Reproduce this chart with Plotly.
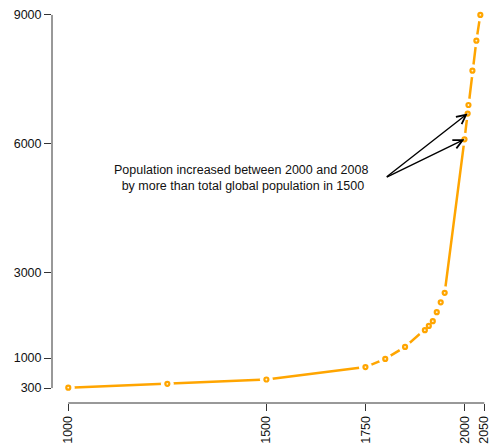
import plotly.graph_objects as go

# ---- data ----
years = [1000, 1250, 1500, 1750, 1800, 1850, 1900, 1910, 1920, 1930, 1940, 1950,
         2000, 2008, 2010, 2020, 2030, 2040]
population = [310, 400, 500, 790, 980, 1260, 1650, 1750, 1860, 2070, 2300, 2520,
              6100, 6700, 6900, 7700, 8400, 9000]

x_ticks = [1000, 1500, 1750, 2000, 2050]
y_ticks = [300, 1000, 3000, 6000, 9000]

note_text = ("Population increased between 2000 and 2008<br>"
             "\u00a0by more than total global population in 1500")
arrow_targets = [2000, 2008]

ORANGE = "#FFA500"
AXIS = "#333333"
FONT = dict(family="Liberation Sans, Arial, sans-serif", size=12.5, color="#111111")

fig = go.Figure()

# connecting line
fig.add_trace(go.Scatter(x=years, y=population, mode="lines",
                         line=dict(color=ORANGE, width=2.5),
                         hoverinfo="skip", showlegend=False))
# white gaps around points (R type="b" look)
fig.add_trace(go.Scatter(x=years, y=population, mode="markers",
                         marker=dict(size=13, color="white", line=dict(width=0)),
                         hoverinfo="skip", showlegend=False))
# points
fig.add_trace(go.Scatter(x=years, y=population, mode="markers",
                         marker=dict(size=4, color="#FFF4DD",
                                     line=dict(color=ORANGE, width=2.2)),
                         showlegend=False))

annotations = [dict(x=1437, y=5200, xref="x", yref="y", text=note_text,
                    showarrow=False, xanchor="center", yanchor="middle",
                    align="center", font=FONT)]
for yr in arrow_targets:
    i = years.index(yr)
    annotations.append(dict(x=years[i], y=population[i], xref="x", yref="y",
                            ax=1800, ay=5200, axref="x", ayref="y", text="",
                            showarrow=True, arrowhead=5, arrowsize=1.3,
                            arrowwidth=1.4, arrowcolor="#000000", standoff=0))

shapes = [
    dict(type="line", xref="x", yref="paper", x0=min(x_ticks), x1=max(x_ticks),
         y0=0, y1=0, line=dict(color=AXIS, width=1)),
    dict(type="line", xref="paper", yref="y", x0=0, x1=0,
         y0=min(y_ticks), y1=max(y_ticks), line=dict(color=AXIS, width=1)),
]

fig.update_layout(
    width=491, height=446,
    margin=dict(l=52, r=0, t=0, b=43),
    paper_bgcolor="white", plot_bgcolor="white",
    font=FONT,
    xaxis=dict(range=[958.9, 2066.9], tickvals=x_ticks, ticktext=[str(v) for v in x_ticks],
               tickangle=-90, ticks="outside", ticklen=7, tickwidth=1, tickcolor=AXIS,
               showline=False, showgrid=False, zeroline=False, fixedrange=True,
               ticklabeloverflow="allow", tickfont=FONT),
    yaxis=dict(range=[-48, 9348], tickvals=y_ticks, ticktext=[str(v) for v in y_ticks],
               ticks="outside", ticklen=7, tickwidth=1, tickcolor=AXIS,
               showline=False, showgrid=False, zeroline=False, fixedrange=True,
               ticklabeloverflow="allow", tickfont=FONT),
    annotations=annotations,
    shapes=shapes,
)

fig.write_html("out.html", config={"displayModeBar": False},
               post_script="document.body.style.margin='0';")
